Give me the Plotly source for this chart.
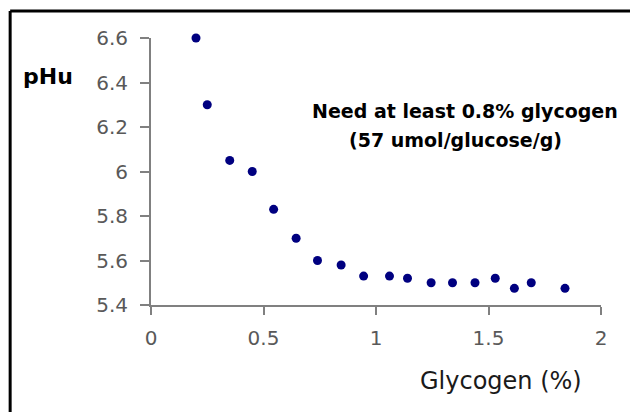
import plotly.graph_objects as go

# glycogen (%) vs ultimate pH
glycogen = [0.20, 0.25, 0.35, 0.45, 0.545, 0.645, 0.74, 0.845, 0.945, 1.06,
            1.14, 1.245, 1.34, 1.44, 1.53, 1.615, 1.69, 1.84]
phu = [6.60, 6.30, 6.05, 6.00, 5.83, 5.70, 5.60, 5.58, 5.53, 5.53,
       5.52, 5.50, 5.50, 5.50, 5.52, 5.475, 5.50, 5.475]

x_ticks = [0, 0.5, 1, 1.5, 2]
y_ticks = [5.4, 5.6, 5.8, 6.0, 6.2, 6.4, 6.6]

axis_grey = '#808080'
label_grey = '#595959'
sans = 'DejaVu Sans, Verdana, sans-serif'

fig = go.Figure()

fig.add_trace(go.Scatter(
    x=glycogen,
    y=phu,
    mode='markers',
    marker=dict(color='#000080', size=9, line=dict(width=0)),
    cliponaxis=False,
    showlegend=False
))

fig.update_xaxes(
    range=[0, 2],
    tickvals=x_ticks,
    ticktext=['0', '0.5', '1', '1.5', '2'],
    showgrid=False,
    zeroline=False,
    showline=True,
    linecolor=axis_grey,
    linewidth=2,
    ticks='outside',
    ticklen=8,
    tickwidth=2,
    tickcolor=axis_grey,
    ticklabelstandoff=6,
    automargin=False,
    tickfont=dict(family=sans, size=20, color=label_grey)
)

fig.update_yaxes(
    range=[5.4, 6.6],
    tickvals=y_ticks,
    ticktext=['5.4', '5.6', '5.8', '6', '6.2', '6.4', '6.6'],
    showgrid=False,
    zeroline=False,
    showline=True,
    linecolor=axis_grey,
    linewidth=2,
    ticks='outside',
    ticklen=9,
    tickwidth=2,
    tickcolor=axis_grey,
    ticklabelstandoff=8,
    automargin=False,
    tickfont=dict(family=sans, size=20, color=label_grey)
)

# frame lines (top and left edge of the original box)
fig.add_shape(type='line', xref='paper', yref='paper',
              x0=-0.313, y0=1.101, x1=1.2, y1=1.101,
              line=dict(color='black', width=3))
fig.add_shape(type='line', xref='paper', yref='paper',
              x0=-0.313, y0=1.101, x1=-0.313, y1=-0.6,
              line=dict(color='black', width=3))

fig.add_annotation(xref='paper', yref='paper', x=-0.229, y=0.854,
                   xanchor='center', yanchor='middle',
                   text='<b>pHu</b>', showarrow=False,
                   font=dict(family=sans, size=22, color='black'))
fig.add_annotation(xref='paper', yref='paper', x=0.778, y=-0.285,
                   xanchor='center', yanchor='middle',
                   text='Glycogen (%)', showarrow=False,
                   font=dict(family=sans, size=24, color='#1a1a1a'))
fig.add_annotation(xref='paper', yref='paper', x=0.698, y=0.727,
                   xanchor='center', yanchor='middle',
                   text='<b>Need at least 0.8% glycogen</b>', showarrow=False,
                   font=dict(family=sans, size=19, color='black'))
fig.add_annotation(xref='paper', yref='paper', x=0.676, y=0.618,
                   xanchor='center', yanchor='middle',
                   text='<b>(57 umol/glucose/g)</b>', showarrow=False,
                   font=dict(family=sans, size=19, color='black'))

# page body adds an 8px offset, so the figure is 8px smaller each way
fig.update_layout(
    width=630,
    height=404,
    margin=dict(l=143, r=37, t=30, b=107),
    paper_bgcolor='white',
    plot_bgcolor='white'
)

fig.write_html("out.html")
